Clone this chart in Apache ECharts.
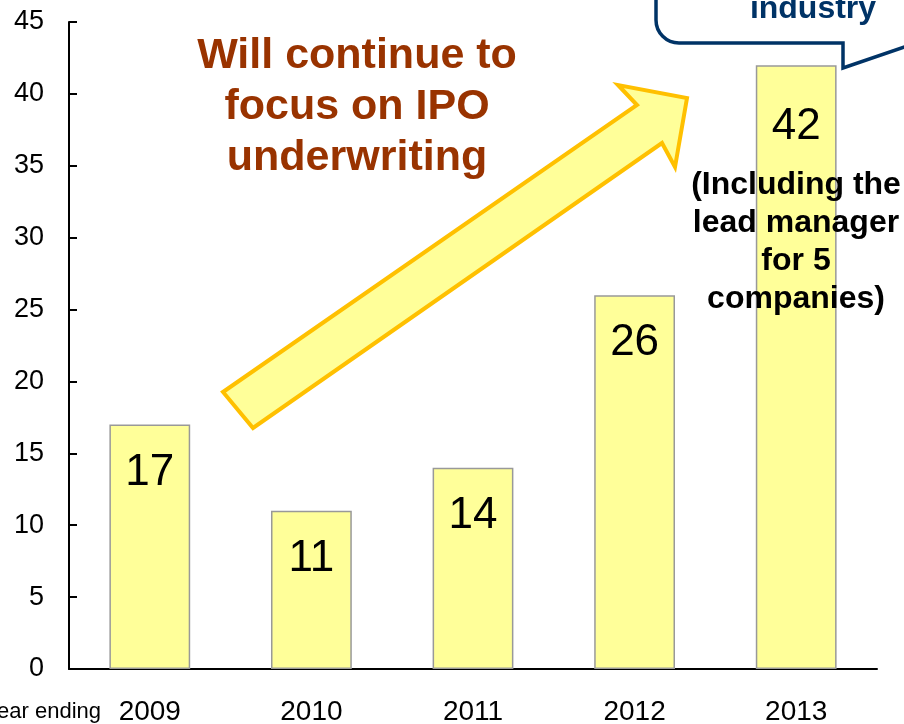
<!DOCTYPE html>
<html>
<head>
  <meta charset="utf-8">
  <title>IPO underwriting</title>
  <script src="https://cdn.jsdelivr.net/npm/echarts@6/dist/echarts.min.js"></script>
  <style>
    html, body { margin: 0; padding: 0; background: #fff; }
    #main { width: 904px; height: 724px; }
  </style>
</head>
<body>
<div id="main"></div>
<script>
  // data
  var years = ['2009', '2010', '2011', '2012', '2013'];
  var counts = [17, 11, 14, 26, 42];
  var yTicks = [0, 5, 10, 15, 20, 25, 30, 35, 40, 45];

  var font = 'Liberation Sans, Arial, sans-serif';
  var chart = echarts.init(document.getElementById('main'));

  var barData = counts.map(function (v, i) {
    var item = { value: v };
    if (i === counts.length - 1) item.label = { distance: 40 };
    return item;
  });

  var navy = '#003366';

  var option = {
    animation: false,
    grid: { left: 69, right: 27, top: 22, bottom: 55, outerBoundsMode: 'none', containLabel: false },
    xAxis: {
      type: 'category',
      data: years,
      axisLine: { lineStyle: { color: '#000', width: 2 } },
      axisTick: { inside: true, length: 8, lineStyle: { color: '#000', width: 2 } },
      axisLabel: { color: '#000', fontSize: 28, fontFamily: font, margin: 29 }
    },
    yAxis: {
      type: 'value',
      min: yTicks[0],
      max: yTicks[yTicks.length - 1],
      interval: 5,
      splitLine: { show: false },
      axisLine: { show: true, lineStyle: { color: '#000', width: 2 } },
      axisTick: { show: true, inside: true, length: 8, lineStyle: { color: '#000', width: 2 } },
      axisLabel: { color: '#000', fontSize: 27, fontFamily: font, margin: 25 }
    },
    series: [{
      type: 'bar',
      data: barData,
      barWidth: '50%',
      itemStyle: { color: '#FFFF99', borderColor: '#999999', borderWidth: 1.5 },
      label: {
        show: true,
        position: 'insideTop',
        distance: 26,
        color: '#000',
        fontSize: 44,
        fontFamily: font
      }
    }],
    graphic: [
      // big arrow
      {
        type: 'polygon',
        z: 10,
        shape: { points: [[223, 392], [637, 105], [618, 85], [687, 98], [675, 167], [662, 143], [253, 428]] },
        style: { fill: '#FFFF99', stroke: '#FFC000', lineWidth: 4 }
      },
      {
        type: 'text',
        z: 11,
        x: 357, y: 31,
        style: {
          text: 'Will continue to\nfocus on IPO\nunderwriting',
          align: 'center',
          verticalAlign: 'top',
          fill: '#993300',
          font: 'bold 43px ' + font,
          lineHeight: 51
        }
      },
      {
        type: 'text',
        z: 11,
        x: 796, y: 166,
        style: {
          text: '(Including the\nlead manager\nfor 5\ncompanies)',
          align: 'center',
          verticalAlign: 'top',
          fill: '#000',
          font: 'bold 32px ' + font,
          lineHeight: 38
        }
      },
      // callout bubble (cut off at top)
      {
        type: 'polyline',
        z: 10,
        shape: { points: [[656, -10], [656, 20]] },
        style: { stroke: navy, lineWidth: 3.5 }
      },
      {
        type: 'arc',
        z: 10,
        shape: { cx: 679, cy: 20, r: 23, startAngle: Math.PI / 2, endAngle: Math.PI, clockwise: true },
        style: { stroke: navy, lineWidth: 3.5, fill: null }
      },
      {
        type: 'polyline',
        z: 10,
        shape: { points: [[679, 43], [843, 43], [843, 68], [910, 45]] },
        style: { stroke: navy, lineWidth: 3.5 }
      },
      {
        type: 'text',
        z: 11,
        x: 813, y: -7,
        style: { text: 'industry', align: 'center', verticalAlign: 'top', fill: navy, font: 'bold 32px ' + font }
      },
      {
        type: 'text',
        z: 11,
        x: 101, y: 701,
        style: { text: 'Year ending', align: 'right', verticalAlign: 'top', fill: '#000', font: '22px ' + font }
      }
    ]
  };
  chart.setOption(option);
</script>
</body>
</html>
